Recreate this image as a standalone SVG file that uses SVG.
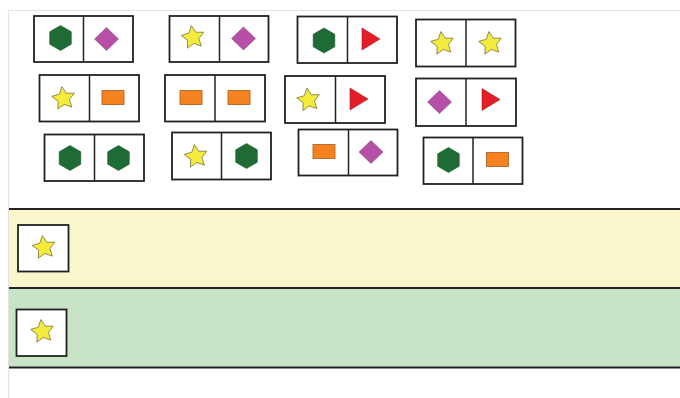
<svg xmlns="http://www.w3.org/2000/svg" xmlns:xlink="http://www.w3.org/1999/xlink" width="680" height="398" viewBox="0 0 680 398">
<style>
.frame{stroke:#e2e2e2;stroke-width:1.2;fill:none}
.dom{fill:#fff;stroke:#222;stroke-width:1.8}
.div{stroke:#222;stroke-width:1.5}
.band{stroke:#222;stroke-width:2}
.hex{fill:#1f6b35;stroke:#1a5a2c;stroke-width:0.6}
.dia{fill:#b64fa6;stroke:#9a4290;stroke-width:0.6}
.rec{fill:#f5821f;stroke:#a85a1a;stroke-width:0.8}
.tri{fill:#e31e27;stroke:#a8181e;stroke-width:0.6}
.star{fill:#f5eb3a;stroke:#7d7a45;stroke-width:0.8;stroke-linejoin:round}
</style>
<defs>
<polygon id="hex" class="hex" points="0,-12.5 10.8,-6.25 10.8,6.25 0,12.5 -10.8,6.25 -10.8,-6.25"/>
<polygon id="dia" class="dia" points="0,-11.5 12,0 0,11.5 -12,0"/>
<rect id="rec" class="rec" x="-11" y="-7" width="22" height="14"/>
<polygon id="tri" class="tri" points="-9,-11 9,0 -9,11"/>
<polygon id="star" class="star" transform="rotate(-8)" points="0,-12 3.53,-4.85 11.41,-3.71 5.7,1.85 7.05,9.71 0,6 -7.05,9.71 -5.7,1.85 -11.41,-3.71 -3.53,-4.85"/>
</defs>
<rect width="680" height="398" fill="#fff"/>
<line class="frame" x1="8.5" y1="10.5" x2="680" y2="10.5"/>
<line class="frame" x1="8.5" y1="10.5" x2="8.5" y2="398"/>

<g id="bands">
<rect x="9" y="209" width="671" height="79" fill="#faf6cb"/>
<rect x="9" y="288" width="671" height="79.5" fill="#c9e3c7"/>
<line class="band" x1="9" y1="209" x2="680" y2="209"/>
<line class="band" x1="9" y1="288" x2="680" y2="288"/>
<line class="band" x1="9" y1="367.5" x2="680" y2="367.5"/>
</g>

<g id="d1"><rect class="dom" x="34" y="16" width="99" height="46"/><line class="div" x1="83.5" y1="16" x2="83.5" y2="62"/>
<use href="#hex" x="60.5" y="38"/><use href="#dia" x="106.5" y="39"/></g>
<g id="d2"><rect class="dom" x="169.5" y="16" width="99" height="46"/><line class="div" x1="219.5" y1="16" x2="219.5" y2="62"/>
<use href="#star" x="193" y="37.5"/><use href="#dia" x="243.5" y="38.5"/></g>
<g id="d3"><rect class="dom" x="297.5" y="16.5" width="99.5" height="46.5"/><line class="div" x1="347.5" y1="16.5" x2="347.5" y2="63"/>
<use href="#hex" x="324" y="40.5"/><use href="#tri" x="371" y="39"/></g>
<g id="d4"><rect class="dom" x="416" y="19.5" width="99.5" height="47"/><line class="div" x1="466" y1="19.5" x2="466" y2="66.5"/>
<use href="#star" x="442.5" y="43.5"/><use href="#star" x="490.5" y="43.5"/></g>

<g id="d5"><rect class="dom" x="39.5" y="75" width="99.5" height="46.5"/><line class="div" x1="89.5" y1="75" x2="89.5" y2="121.5"/>
<use href="#star" x="63.5" y="98.5"/><use href="#rec" x="113" y="97.5"/></g>
<g id="d6"><rect class="dom" x="165" y="75" width="100" height="46.5"/><line class="div" x1="215" y1="75" x2="215" y2="121.5"/>
<use href="#rec" x="191" y="97.5"/><use href="#rec" x="239" y="97.5"/></g>
<g id="d7"><rect class="dom" x="285" y="76" width="100" height="47"/><line class="div" x1="335.5" y1="76" x2="335.5" y2="123"/>
<use href="#star" x="308.5" y="100"/><use href="#tri" x="359" y="99"/></g>
<g id="d8"><rect class="dom" x="416" y="78.5" width="100" height="47.5"/><line class="div" x1="466" y1="78.5" x2="466" y2="126"/>
<use href="#dia" x="439.5" y="102"/><use href="#tri" x="491" y="99.5"/></g>

<g id="d9"><rect class="dom" x="44.5" y="134.5" width="99.5" height="46.5"/><line class="div" x1="94.5" y1="134.5" x2="94.5" y2="181"/>
<use href="#hex" x="70" y="158"/><use href="#hex" x="118.5" y="158"/></g>
<g id="d10"><rect class="dom" x="172" y="132.5" width="99" height="47"/><line class="div" x1="221.5" y1="132.5" x2="221.5" y2="179.5"/>
<use href="#star" x="196" y="156.5"/><use href="#hex" x="246.5" y="156"/></g>
<g id="d11"><rect class="dom" x="298.5" y="129.5" width="99" height="46"/><line class="div" x1="348.5" y1="129.5" x2="348.5" y2="175.5"/>
<use href="#rec" x="324" y="151.5"/><use href="#dia" x="371" y="152"/></g>
<g id="d12"><rect class="dom" x="423.5" y="137.5" width="99" height="46.5"/><line class="div" x1="473" y1="137.5" x2="473" y2="184"/>
<use href="#hex" x="448.5" y="160"/><use href="#rec" x="497.5" y="159.5"/></g>

<g id="yellow-card"><rect class="dom" x="18" y="225" width="50.5" height="46.5"/><use href="#star" x="44" y="247.5"/></g>
<g id="green-card"><rect class="dom" x="16.5" y="309.5" width="50" height="46.5"/><use href="#star" x="42.5" y="331.5"/></g>
</svg>
